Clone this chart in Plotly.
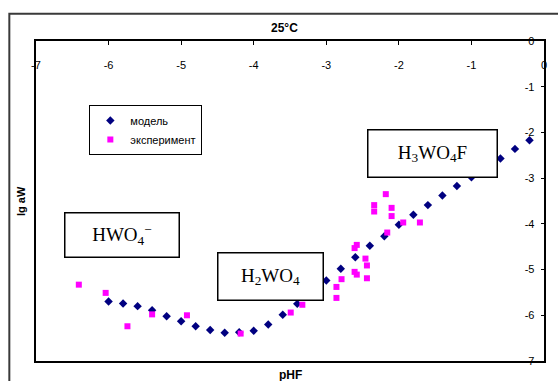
import plotly.graph_objects as go

# Model curve: lg aW vs pHF
model_phf = [-6.0, -5.8, -5.6, -5.4, -5.2, -5.0, -4.8, -4.6, -4.4, -4.2,
             -4.0, -3.8, -3.6, -3.4, -3.2, -3.0, -2.8, -2.6, -2.4, -2.2,
             -2.0, -1.8, -1.6, -1.4, -1.2, -1.0, -0.8, -0.6, -0.4, -0.2]
model_lga = [-5.70, -5.74, -5.80, -5.89, -6.02, -6.13, -6.24, -6.32, -6.38, -6.37,
             -6.34, -6.20, -5.99, -5.75, -5.49, -5.24, -4.98, -4.73, -4.48, -4.27,
             -4.02, -3.80, -3.59, -3.38, -3.17, -2.98, -2.76, -2.57, -2.36, -2.17]

# Experimental points
exp_phf = [-6.41, -6.04, -5.74, -5.40, -4.92, -4.18, -3.49, -3.33, -2.86, -2.86,
           -2.79, -2.61, -2.58, -2.61, -2.58, -2.46, -2.44, -2.44, -2.34, -2.34,
           -2.18, -2.10, -2.10, -2.16, -1.94, -1.71]
exp_lga = [-5.33, -5.51, -6.24, -5.98, -6.00, -6.40, -5.94, -5.77, -5.62, -5.38,
           -5.21, -5.05, -5.11, -4.53, -4.46, -4.76, -4.91, -5.19, -3.59, -3.73,
           -3.35, -3.65, -3.83, -4.19, -3.97, -3.97]

tick_vals = [-7, -6, -5, -4, -3, -2, -1, 0]
tick_text = ["-7", "-6", "-5", "-4", "-3", "-2", "-1", "0"]

# Species labels and their positions on the chart
species = ["HWO<sub>4</sub><sup>\u2212</sup>", "H<sub>2</sub>WO<sub>4</sub>", "H<sub>3</sub>WO<sub>4</sub>F"]
species_x = [-5.82, -3.775, -1.53]
species_y = [-4.25, -5.16, -2.47]
species_w = [113, 104, 128]
species_h = [43, 46, 46]

fig = go.Figure()
fig.add_trace(go.Scatter(
    x=model_phf, y=model_lga, mode="markers", name="модель",
    marker=dict(symbol="diamond", size=6.5, color="#000080"),
))
fig.add_trace(go.Scatter(
    x=exp_phf, y=exp_lga, mode="markers", name="эксперимент",
    marker=dict(symbol="square", size=6, color="#FF00FF"),
))

for txt, sx, sy, w, h in zip(species, species_x, species_y, species_w, species_h):
    fig.add_annotation(
        x=sx, y=sy, xref="x", yref="y", text=txt, showarrow=False,
        width=w, height=h, borderpad=0, borderwidth=1.5,
        bordercolor="black", bgcolor="white",
        font=dict(family="Liberation Serif, Times New Roman, serif", size=19, color="black"),
    )

# Axis titles and chart title
fig.add_annotation(text="<b>25°C</b>", xref="paper", yref="paper", x=0.490, y=1.0,
                   yshift=13, showarrow=False, yanchor="middle",
                   font=dict(size=12, color="black"))
fig.add_annotation(text="<b>pHF</b>", xref="paper", yref="paper", x=0.5, y=0,
                   yshift=-14, showarrow=False, yanchor="middle",
                   font=dict(size=12, color="black"))
fig.add_annotation(text="<b>lg aW</b>", xref="paper", yref="paper", x=0, y=0.5,
                   xshift=-15, showarrow=False, textangle=-90, xanchor="center",
                   font=dict(size=11, color="black"))

# Chart-area frame
fig.add_shape(type="rect", xref="paper", yref="paper",
              x0=-0.0525, x1=1.2, y0=-0.2, y1=1.0853,
              line=dict(color="#3a3a3a", width=2), layer="below")

fig.update_layout(
    width=558, height=381,
    margin=dict(l=36, r=14, t=41, b=20),
    paper_bgcolor="white", plot_bgcolor="white",
    font=dict(family="Liberation Sans, Arial, sans-serif", size=11, color="black"),
    showlegend=True,
    legend=dict(x=0.105, y=0.80, xanchor="left", yanchor="top",
                bgcolor="white", bordercolor="black", borderwidth=1,
                font=dict(size=11, color="black"), itemsizing="trace",
                itemwidth=30, tracegroupgap=0),
    xaxis=dict(range=[-7, 0], side="top", tickvals=tick_vals, ticktext=tick_text,
               ticks="inside", ticklen=4, tickcolor="black",
               tickfont=dict(size=11, color="black"),
               ticklabelposition="inside", ticklabeloverflow="allow",
               ticklabelstandoff=16,
               showline=True, linecolor="black", linewidth=1.5, mirror=True,
               showgrid=False, zeroline=False),
    yaxis=dict(range=[-7, 0], side="right", tickvals=tick_vals, ticktext=tick_text,
               ticks="inside", ticklen=3, tickcolor="black",
               tickfont=dict(size=11, color="black"),
               ticklabelposition="inside", ticklabeloverflow="allow",
               ticklabelstandoff=6,
               showline=True, linecolor="black", linewidth=1.5, mirror=True,
               showgrid=False, zeroline=False),
)

fig.write_html("out.html")
